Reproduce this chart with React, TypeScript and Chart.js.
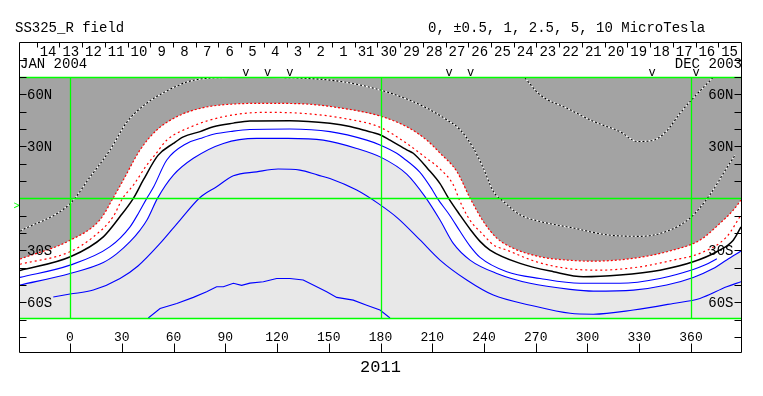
import React, { useEffect, useRef } from 'react';
import { Chart, registerables } from 'chart.js';

Chart.register(...registerables);

type P = [number, number];

// ---------- text ----------
const titleText = 'SS325_R field';
const levelsText = '0, \u00B10.5, 1, 2.5, 5, 10 MicroTesla';
const yearText = '2011';
const leftDateText = 'JAN 2004';
const rightDateText = 'DEC 2003';

// ---------- axes ----------
const lonTicks = [0, 30, 60, 90, 120, 150, 180, 210, 240, 270, 300, 330, 360];
const latTickMarks = [-80, -70, -60, -50, -40, -30, -20, -10, 10, 20, 30, 40, 50, 60, 70, 80];
const latLabelValues = [60, 30, -30, -60];
const latLabelTexts = ['60N', '30N', '30S', '60S'];
const gridLons = [0, 180, 360];
const gridLats = [0];
const dayLabels = ['14', '13', '12', '11', '10', '9', '8', '7', '6', '5', '4', '3', '2', '1', '31',
  '30', '29', '28', '27', '26', '25', '24', '23', '22', '21', '20', '19', '18', '17', '16', '15'];
const dayStartLon = -19.3;
const dayStepLon = 13.17;
const markerLons = [101.9, 114.6, 127.5, 219.7, 232.3, 337.4, 362.9];
const earthLat = -4.4;

// ---------- contours (longitude, latitude) ----------
const red1: P[] = [[-29, -35], [0.2, -24.1], [17.4, -12.3], [24.9, 0], [30.9, 10.6], [40.6, 27.9], [50.3, 39.4],
  [61.9, 47.1], [75.4, 51.9], [94.5, 54.4], [114, 54.8], [133.3, 54.6], [158.3, 51.9], [179.7, 47.5],
  [195.2, 41.3], [206.8, 33.6], [214.5, 26.1], [224.2, 15.6], [231.9, 0.2], [239.6, -13.3], [247.4, -22.9],
  [257, -28.8], [272.5, -33.7], [288, -35.6], [303.4, -36.2], [326.5, -34.6], [349.7, -29.8], [365.2, -24.1],
  [376.8, -14.4], [384.5, -6.8], [389, -1]];

const red2: P[] = [[-29, -38], [0, -30.8], [13.5, -22.2], [25, -10.6], [30.5, 0], [37, 8], [44, 18.5], [50, 26],
  [56, 33.5], [70, 41.2], [88.9, 47.1], [112, 49.6], [135.2, 49], [158.4, 46.2], [179.7, 41], [195.2, 31.7],
  [206.8, 23], [214.5, 17], [222.2, 7.8], [226.1, -1.7], [230, -9.5], [233.8, -15.2], [237.7, -19],
  [245.4, -26.8], [253.1, -29.8], [270.5, -36.6], [288, -40.4], [307.2, -41.4], [330.4, -39.5], [349.7, -35.6],
  [365.2, -31.7], [380.7, -22.2], [388.4, -10.6]];

const black0: P[] = [[-29, -41.6], [0.2, -33.7], [19.3, -22.2], [29, -10.5], [36.7, 0], [42.5, 10.6], [51, 24.8],
  [59.9, 31.7], [65.7, 35.5], [75.4, 38.5], [83.1, 41.3], [94.7, 43.4], [104.3, 44.6], [127.5, 44.8],
  [150.7, 43.3], [162.3, 41.5], [170, 39.4], [179.7, 36.7], [185.5, 33.6], [195.2, 28], [199, 26],
  [207.5, 17], [214.5, 8.5], [219.5, 0], [226, -9.5], [232.5, -18.5], [237.7, -24.8], [243.5, -29.8],
  [260.9, -37.5], [280.2, -42.3], [297.6, -45.2], [318.8, -44.2], [342, -41.4], [361.3, -36.6],
  [374.9, -30.8], [384.5, -24.1], [389, -16.5]];

const blue1: P[] = [[-29, -45.6], [0, -38.5], [23, -28], [34.8, -16.4], [40, -8], [44.5, 0], [48.5, 6.7],
  [56.1, 22.1], [67.7, 31.7], [75.4, 34.5], [83.1, 37], [94.7, 38.8], [104.3, 39.7], [127.5, 40], [150.7, 38.5],
  [172, 33.6], [179.7, 30.8], [189.4, 26], [193.2, 23.3], [202.9, 15], [210, 5], [213, 0], [220.3, -10],
  [226.1, -19], [231.9, -27.5], [237.7, -34], [253.2, -42.3], [272.5, -46.2], [295.7, -49], [318.8, -49],
  [342, -46.2], [361.3, -41], [368, -38.5], [375, -34.8]];

const blue2: P[] = [[-29, -50], [0, -43.3], [19.3, -37], [27, -32], [34.8, -25], [40.6, -18.3],
  [44.6, -12.5], [50.7, 0], [59.9, 13.4], [71.5, 23.1], [88.9, 31.7], [108.2, 34.6], [126.4, 34.6],
  [146.8, 33.6], [166.2, 28.8], [180.7, 23.5], [195.2, 14], [205.8, 1], [214.5, -12.5], [222.2, -26],
  [231.9, -35.6], [247.4, -43.3], [266.7, -49], [289.9, -52.5], [303.4, -53.5], [326.6, -52.9], [345.9, -50],
  [361.3, -45.6], [372.9, -40.5], [380.7, -35.5], [389, -30.4]];

const blue3: P[] = [[-9.7, -56.9], [0, -55.2], [13.5, -52.9], [29, -46.2], [39.4, -39], [52.2, -26], [63.8, -12.5],
  [75.4, 0.5], [85, 6.7], [94.7, 13], [108.2, 15.3], [120.6, 16.9], [133.3, 16.3], [143.8, 13.4], [150.7, 11.5],
  [166.2, 4.8], [178.6, -2.9], [190.1, -11.5], [202.9, -24], [214.5, -35.6], [230, -47.1], [245.4, -55.8],
  [266.9, -61.6], [290, -66.3], [303.4, -66.8], [326.6, -64.4], [349.7, -60.6], [365.2, -57.7], [380.7, -51],
  [389, -48.1]];

const blue4: P[] = [[45.4, -69], [52.2, -63.5], [61.9, -60.6], [71.5, -57.1], [79.2, -53.9], [85, -51], [88.9, -51],
  [91.8, -50], [94.7, -49], [99.5, -50.2], [104.3, -48.9], [112.1, -48.1], [119.8, -46.2], [127.5, -46.2],
  [135.2, -47.1], [141, -50], [148.8, -53.9], [154.6, -57.1], [164.2, -58.7], [172, -61.6], [179.7, -64.4],
  [185.5, -69]];

const dotted1: P[] = [[-29, -18.9], [0.2, -2.9], [11.6, 12.3], [23.2, 27.9], [33, 44], [44.6, 55], [56.2, 62],
  [67.8, 67.1], [75.4, 68.8], [92.8, 69.7], [115.9, 69.7], [133.3, 69.4], [156.5, 67.5], [175.8, 63.6],
  [191.3, 58.8], [206.8, 52.1], [218.4, 45.3], [226.1, 39.6], [233.8, 29], [239.6, 17.5], [245.4, 4],
  [251.2, -1.7], [260.9, -9.5], [272.5, -13.3], [291.8, -17.1], [311.1, -21], [330.4, -21.9], [345.9, -19],
  [359.4, -11.4], [371, 2.1], [380.7, 17.5], [385.5, 24.8]];

const dotted2: P[] = [[263.8, 69.4], [272.5, 59.7], [287.9, 52.1], [303.4, 44.4], [318.8, 38.5], [329, 32.8],
  [338.5, 33.6], [346, 39], [353.6, 49], [359.4, 55.8], [372.9, 69.8]];

// ---------- colours ----------
const DARK = '#a3a3a3';
const LIGHT = '#e8e8e8';
const BLUE = '#0000ff';
const RED = '#ff0000';
const GREEN = '#00ff00';
const MONO = '"Liberation Mono", "DejaVu Sans Mono", monospace';

const decor = {
  id: 'decor',
  beforeDraw(chart: any) {
    const { ctx, chartArea: a } = chart;
    ctx.save();
    ctx.fillStyle = '#ffffff';
    ctx.fillRect(0, 0, chart.width, chart.height);
    ctx.fillStyle = DARK;
    ctx.fillRect(a.left, a.top, a.right - a.left, a.bottom - a.top);
    ctx.restore();
  },
  afterDatasetsDraw(chart: any) {
    const { ctx, chartArea: a } = chart;
    const xs = chart.scales.x;
    const ys = chart.scales.y;
    const px = (v: number) => Math.round(xs.getPixelForValue(v)) + 0.5;
    const py = (v: number) => Math.round(ys.getPixelForValue(v)) + 0.5;
    const L = a.left - 0.5;
    const R = a.right + 0.5;
    const T = a.top - 35 + 0.5;
    const B = a.bottom + 34 + 0.5;

    ctx.save();
    ctx.strokeStyle = GREEN;
    ctx.lineWidth = 1.3;
    ctx.beginPath();
    for (const lat of gridLats) {
      ctx.moveTo(L, py(lat));
      ctx.lineTo(R, py(lat));
    }
    ctx.moveTo(L, a.top + 0.5);
    ctx.lineTo(R, a.top + 0.5);
    ctx.moveTo(L, a.bottom + 0.5);
    ctx.lineTo(R, a.bottom + 0.5);
    for (const lon of gridLons) {
      ctx.moveTo(px(lon), a.top);
      ctx.lineTo(px(lon), a.bottom + 1);
    }
    ctx.stroke();

    ctx.strokeStyle = '#000000';
    ctx.lineWidth = 1;
    ctx.beginPath();
    ctx.moveTo(L, T);
    ctx.lineTo(R, T);
    ctx.moveTo(L, B);
    ctx.lineTo(R, B);
    ctx.moveTo(L, T);
    ctx.lineTo(L, B);
    ctx.moveTo(R, T);
    ctx.lineTo(R, B);
    for (const lat of latTickMarks) {
      const y = py(lat);
      ctx.moveTo(L, y);
      ctx.lineTo(L + 7, y);
      ctx.moveTo(R, y);
      ctx.lineTo(R - 7, y);
    }
    for (const lon of lonTicks) {
      const x = px(lon);
      ctx.moveTo(x, B);
      ctx.lineTo(x, B - 9);
    }
    for (let k = 0; k <= dayLabels.length; k++) {
      const x = px(dayStartLon + k * dayStepLon);
      if (x > R - 1) continue;
      ctx.moveTo(x, T);
      ctx.lineTo(x, T + 5);
    }
    ctx.stroke();

    ctx.fillStyle = '#000000';
    ctx.font = '14px ' + MONO;
    ctx.textBaseline = 'alphabetic';
    ctx.textAlign = 'left';
    ctx.fillText(titleText, 15, 32);
    ctx.fillText(levelsText, 428, 32);
    ctx.fillText(leftDateText, 20, 67.5);
    ctx.textAlign = 'right';
    ctx.fillText(rightDateText, R + 0.5, 67.5);

    ctx.textAlign = 'center';
    dayLabels.forEach((lab, k) => {
      ctx.fillText(lab, xs.getPixelForValue(dayStartLon + (k + 0.5) * dayStepLon), 55.5);
    });

    ctx.textBaseline = 'middle';
    latLabelValues.forEach((v, i) => {
      const y = ys.getPixelForValue(v) + 0.5;
      ctx.textAlign = 'left';
      ctx.fillText(latLabelTexts[i], L + 7.5, y);
      ctx.textAlign = 'right';
      ctx.fillText(latLabelTexts[i], R - 8, y);
    });

    ctx.textAlign = 'center';
    ctx.textBaseline = 'alphabetic';
    ctx.font = '13px ' + MONO;
    for (const lon of lonTicks) {
      ctx.fillText(String(lon), xs.getPixelForValue(lon), 341);
    }
    ctx.font = '17px ' + MONO;
    ctx.fillText(yearText, xs.getPixelForValue(180), 372);

    ctx.font = '12px ' + MONO;
    for (const lon of markerLons) {
      ctx.fillText('v', xs.getPixelForValue(lon), a.top - 1);
    }
    ctx.fillStyle = GREEN;
    ctx.font = '10px ' + MONO;
    ctx.textBaseline = 'middle';
    ctx.fillText('>', 16.5, ys.getPixelForValue(earthLat));
    ctx.restore();
  },
};

export default function App() {
  const ref = useRef<HTMLCanvasElement>(null);
  useEffect(() => {
    const canvas = ref.current;
    if (!canvas) return;
    const mk = (pts: P[]) => pts.map(([x, y]) => ({ x, y }));
    const line = (pts: P[], color: string, width: number, dash: number[] = [], extra: any = {}) => ({
      data: mk(pts),
      borderColor: color,
      borderWidth: width,
      borderDash: dash,
      pointRadius: 0,
      pointHoverRadius: 0,
      fill: false,
      cubicInterpolationMode: 'monotone',
      ...extra,
    });
    const chart = new Chart(canvas, {
      type: 'line',
      data: {
        datasets: [
          line(blue2, BLUE, 1.1, [], { fill: 'start', backgroundColor: LIGHT }),
          line(red1, RED, 1.2, [2, 2], { fill: 'start', backgroundColor: '#ffffff' }),
          line(red2, RED, 1.2, [2, 3]),
          line(black0, '#000000', 1.5),
          line(blue1, BLUE, 1.1),
          line(blue3, BLUE, 1.1),
          line(blue4, BLUE, 1.1, [], { cubicInterpolationMode: 'default', tension: 0 }),
          line(dotted1, '#000000', 1.1, [2, 2]),
          line(dotted1, '#ffffff', 1.1),
          line(dotted2, '#000000', 1.1, [2, 2]),
          line(dotted2, '#ffffff', 1.1),
        ] as any,
      },
      options: {
        responsive: false,
        animation: false,
        devicePixelRatio: 1,
        events: [],
        layout: { padding: { left: 20, right: 22, top: 77, bottom: 78 } },
        scales: {
          x: { type: 'linear', min: -29, max: 389, display: false },
          y: { type: 'linear', min: -69, max: 70, display: false },
        },
        plugins: {
          legend: { display: false },
          tooltip: { enabled: false },
          filler: { drawTime: 'beforeDatasetsDraw' },
        } as any,
      },
      plugins: [decor],
    });
    return () => chart.destroy();
  }, []);
  return (
    <div style={{ position: 'absolute', left: 0, top: 0, width: 763, height: 396, background: '#ffffff' }}>
      <canvas ref={ref} width={763} height={396} style={{ display: 'block', width: 763, height: 396 }} />
    </div>
  );
}
